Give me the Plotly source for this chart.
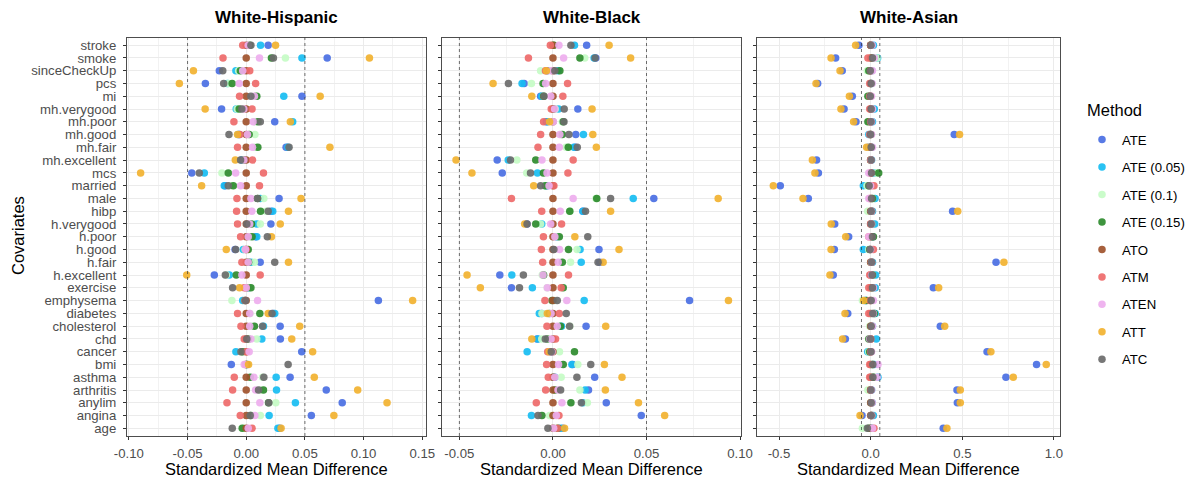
import plotly.graph_objects as go

covariates = ["age", "angina", "anylim", "arthritis", "asthma", "bmi", "cancer", "chd",
              "cholesterol", "diabetes", "emphysema", "exercise", "h.excellent", "h.fair",
              "h.good", "h.poor", "h.verygood", "hibp", "male", "married", "mcs",
              "mh.excellent", "mh.fair", "mh.good", "mh.poor", "mh.verygood", "mi", "pcs",
              "sinceCheckUp", "smoke", "stroke"]

methods = ["ATE", "ATE (0.05)", "ATE (0.1)", "ATE (0.15)", "ATO", "ATM", "ATEN", "ATT", "ATC"]
method_colors = ["#4A6FE3", "#17BDF2", "#C6FCC6", "#2E8B2E", "#A0522D",
                 "#EE6A6A", "#EEAEEE", "#F2B230", "#6B6B6B"]

panels = ["White-Hispanic", "White-Black", "White-Asian"]

# ---------------- White-Hispanic ----------------
wh_ATE = [0.0286, 0.0555, 0.0818, 0.0682, 0.0374, -0.0127, 0.0473, 0.0291, 0.0289, 0.023, 0.1126,
          0.002, -0.0272, 0.0119, -0.0095, 0.008, 0.021, 0.021, 0.028, -0.018, -0.0464, -0.004,
          0.034, -0.006, 0.0243, -0.021, 0.0475, -0.0348, -0.0229, 0.069, 0.0187]
wh_ATE05 = [0.027, 0.0195, 0.0419, 0.0258, 0.0255, 0.0005, -0.0088, 0.0133, 0.0147, 0.0243, -0.003,
            0.002, -0.0144, 0.004, -0.0025, 0.009, 0.009, 0.0226, 0.012, -0.0187, -0.0357, -0.003,
            0.0355, -0.0068, 0.0396, -0.0085, 0.032, -0.016, -0.0088, 0.0475, 0.0122]
wh_ATE10 = [-0.002, 0.012, 0.0252, 0.012, 0.014, -0.001, -0.004, 0.009, 0.0045, 0.003, -0.0122,
            0.0025, -0.017, 0.007, -0.001, 0.003, 0.012, 0.017, 0.015, -0.0135, -0.0207, -0.002,
            0.0074, 0.0074, 0.0074, -0.0077, 0.008, -0.015, -0.0065, 0.0334, 0.0025]
wh_ATE15 = [-0.0034, 0.004, 0.019, 0.0147, 0.0034, 0.0005, -0.0031, 0.002, 0.007, 0.0116, -0.001,
            0.004, -0.0085, 0.002, 0.0017, 0.005, 0.0045, 0.0122, 0.0096, -0.011, -0.0153, -0.002,
            0.0099, 0.0025, 0.010, -0.006, 0.009, -0.012, -0.005, 0.0215, 0.003]
wh_ATO = [0.0] * 31
wh_ATM = [0.005, -0.0051, -0.0164, -0.0116, -0.0102, -0.0005, 0.0003, -0.0017, -0.0045, -0.0074, -0.001,
          -0.0017, 0.0119, -0.0037, -0.0003, -0.0048, -0.0074, -0.0082, -0.0079, 0.0113, 0.0147, 0.0054,
          -0.0074, -0.0054, -0.0105, 0.005, -0.0057, 0.008, 0.003, -0.0198, -0.003]
wh_ATEN = [0.0017, 0.0074, 0.0116, 0.008, 0.0065, -0.0017, 0.0025, 0.004, 0.003, 0.003, 0.0096,
           0.0, -0.0037, 0.0017, -0.0006, 0.0017, 0.003, 0.0048, 0.004, -0.0048, -0.009, -0.002,
           0.0054, 0.0011, 0.006, -0.002, 0.007, -0.006, -0.003, 0.0113, 0.0017]
wh_ATT = [0.0297, 0.0747, 0.120, 0.095, 0.058, 0.002, 0.0566, 0.0388, 0.0456, 0.0187, 0.1418,
          -0.0057, -0.0507, 0.036, -0.017, 0.0215, 0.029, 0.036, 0.0467, -0.038, -0.090, -0.0093,
          0.0713, -0.0074, 0.0376, -0.035, 0.063, -0.057, -0.045, 0.105, 0.025]
wh_ATC = [-0.0119, 0.0034, 0.0192, 0.0105, 0.015, 0.0357, -0.0045, 0.0005, 0.0139, 0.022, -0.0006,
          -0.0116, -0.0178, 0.0243, -0.009, 0.018, 0.0005, 0.0187, 0.0096, -0.0153, -0.040, -0.0048,
          0.0365, -0.0147, 0.012, -0.0037, 0.004, -0.0192, -0.020, 0.0232, 0.004]

# ---------------- White-Black ----------------
wb_ATE = [0.0053, 0.0472, 0.0285, 0.019, 0.0223, 0.0105, -0.001, -0.0085, 0.0177, -0.006, 0.073,
          -0.0222, -0.0284, 0.025, 0.0246, 0.002, -0.014, 0.016, 0.0539, -0.003, -0.0271, -0.0298,
          0.0119, 0.0122, -0.0035, 0.0133, -0.0066, -0.0154, -0.003, 0.0229, 0.018]
wb_ATE05 = [0.004, -0.0115, 0.016, 0.0172, 0.001, 0.0101, -0.0138, -0.008, 0.0046, -0.0073, 0.0167,
            -0.011, -0.022, 0.0151, 0.0145, 0.002, -0.006, 0.0161, 0.0429, -0.004, -0.0083, -0.0239,
            0.0112, 0.0163, -0.003, 0.003, -0.006, -0.0165, 0.0027, 0.022, 0.0115]
wb_ATE10 = [0.001, -0.0018, 0.0184, 0.0144, 0.0044, 0.0133, 0.0035, -0.006, 0.009, -0.0059, 0.001,
            -0.003, -0.0057, 0.0094, 0.0129, 0.002, -0.0066, 0.009, 0.023, -0.0044, -0.014, -0.0193,
            0.007, 0.004, 0.005, 0.0012, -0.005, -0.0115, -0.0066, 0.017, 0.0]
wb_ATE15 = [0.0027, -0.0059, 0.0096, 0.001, 0.0005, 0.0055, 0.0115, -0.003, 0.004, -0.002, -0.0005,
            0.0055, -0.005, 0.005, 0.0083, 0.0034, -0.0092, 0.009, 0.0234, -0.004, -0.0051, -0.0092,
            0.0082, 0.005, 0.0055, 0.0002, -0.005, -0.0053, 0.0037, 0.0144, 0.0005]
wb_ATO = [0.0] * 31
wb_ATM = [0.0025, 0.0032, -0.0089, -0.0039, -0.0025, -0.0034, -0.0028, 0.0014, -0.0032, 0.0034, -0.0043,
          0.0044, 0.0083, -0.0055, -0.0062, -0.0051, 0.0046, -0.006, -0.0222, 0.0005, 0.008, 0.0108,
          -0.008, -0.0066, -0.005, -0.0009, 0.0053, 0.0078, -0.004, -0.0131, -0.0014]
wb_ATEN = [0.0004, 0.0018, 0.0048, 0.0027, 0.001, 0.003, -0.0005, -0.001, 0.0023, -0.001, 0.0074,
           -0.003, -0.0053, 0.0028, 0.0035, 0.001, -0.0012, 0.0039, 0.0108, -0.0021, -0.0032, -0.0059,
           0.0034, 0.0037, 0.0002, 0.0009, -0.0012, -0.0039, -0.001, 0.0057, 0.0032]
wb_ATT = [0.0062, 0.0597, 0.0457, 0.028, 0.0369, 0.0275, -0.002, -0.0113, 0.0282, -0.003, 0.0938,
          -0.0388, -0.0459, 0.0268, 0.0353, 0.0117, -0.0151, 0.0308, 0.0883, -0.0103, -0.0433, -0.0518,
          0.0232, 0.0213, -0.0018, 0.0209, -0.0113, -0.032, -0.0035, 0.0415, 0.030]
wb_ATC = [-0.0027, -0.008, 0.0152, 0.0041, 0.0128, 0.0202, -0.0009, -0.0041, 0.0089, 0.0071, 0.0023,
          -0.0179, -0.0158, 0.0241, 0.0005, 0.0186, -0.0138, 0.0174, 0.0308, -0.0066, -0.012, -0.0227,
          0.013, 0.0085, 0.0059, 0.006, -0.0048, -0.0238, 0.001, 0.0225, 0.0096]

# ---------------- White-Asian ----------------
wa_ATE = [0.396, -0.047, 0.473, 0.471, 0.738, 0.905, 0.635, -0.138, 0.38, -0.125, -0.03,
          0.342, -0.204, 0.684, -0.198, -0.12, -0.196, 0.447, -0.34, -0.493, -0.285, -0.295,
          -0.012, 0.456, -0.08, -0.145, -0.10, -0.289, -0.155, -0.191, -0.064]
wa_ATE05 = [0.005, 0.015, 0.008, 0.005, 0.04, 0.02, -0.016, 0.031, 0.01, 0.025, -0.025,
            0.025, 0.027, 0.01, -0.04, 0.01, 0.022, 0.01, 0.024, -0.04, 0.02, 0.005,
            0.005, -0.01, 0.01, 0.02, -0.005, 0.005, 0.005, 0.038, 0.015]
wa_ATE10 = [-0.045, 0.005, 0.0, -0.015, 0.02, 0.01, -0.01, -0.005, -0.005, 0.01, -0.045,
            0.005, 0.01, 0.0, -0.01, 0.005, 0.005, -0.016, 0.01, -0.02, 0.03, 0.0,
            -0.005, 0.0, -0.01, 0.005, -0.005, 0.005, -0.018, 0.035, 0.0]
wa_ATE15 = [-0.01, 0.005, 0.005, 0.0, 0.015, 0.01, -0.005, -0.01, 0.005, 0.02, -0.022,
            0.01, 0.01, 0.005, -0.005, 0.015, 0.005, 0.005, 0.01, -0.01, 0.044, 0.0,
            0.0, 0.0, -0.015, 0.005, -0.015, 0.0, -0.01, 0.01, 0.0]
wa_ATO = [0.0] * 31
wa_ATM = [0.018, 0.005, 0.005, 0.0, -0.005, -0.005, 0.0, 0.0, 0.005, -0.01, -0.005,
          -0.01, -0.005, 0.005, 0.015, -0.01, 0.0, 0.005, -0.005, 0.018, 0.0, 0.0,
          0.0, -0.005, 0.0, -0.005, -0.005, -0.005, 0.0, -0.015, 0.0]
wa_ATEN = [0.01, 0.005, 0.008, 0.005, 0.035, 0.04, 0.005, -0.005, 0.01, 0.015, 0.015,
           0.015, 0.005, 0.005, 0.0, -0.01, 0.005, 0.005, -0.01, 0.0, -0.01, 0.003,
           0.01, 0.005, 0.005, 0.01, 0.005, 0.008, 0.01, 0.02, 0.008]
wa_ATT = [0.416, -0.058, 0.489, 0.489, 0.778, 0.958, 0.656, -0.153, 0.404, -0.14, -0.038,
          0.371, -0.222, 0.727, -0.216, -0.136, -0.215, 0.475, -0.369, -0.531, -0.304, -0.318,
          -0.022, 0.485, -0.093, -0.162, -0.116, -0.298, -0.167, -0.216, -0.082]
wa_ATC = [-0.018, 0.003, 0.003, 0.002, 0.012, 0.012, 0.002, -0.002, 0.003, 0.012, 0.003,
          0.01, 0.008, 0.005, -0.003, 0.01, 0.003, 0.003, 0.005, -0.008, 0.005, 0.003,
          0.003, 0.0, 0.002, 0.003, -0.002, 0.003, -0.002, 0.01, 0.002]

# tick labels
wh_ticks = ["-0.10", "-0.05", "0.00", "0.05", "0.10", "0.15"]
wb_ticks = ["-0.05", "0.00", "0.05", "0.10"]
wa_ticks = ["-0.5", "0.0", "0.5", "1.0"]
threshold = 0.05

panel_data = [
    [wh_ATE, wh_ATE05, wh_ATE10, wh_ATE15, wh_ATO, wh_ATM, wh_ATEN, wh_ATT, wh_ATC],
    [wb_ATE, wb_ATE05, wb_ATE10, wb_ATE15, wb_ATO, wb_ATM, wb_ATEN, wb_ATT, wb_ATC],
    [wa_ATE, wa_ATE05, wa_ATE10, wa_ATE15, wa_ATO, wa_ATM, wa_ATEN, wa_ATT, wa_ATC],
]
panel_ticks = [wh_ticks, wb_ticks, wa_ticks]
for series in panel_data:
    for s in series:
        assert len(s) == len(covariates)

W, H = 1196, 486
FONT = "Liberation Sans, Arial, sans-serif"
TICK_SIZE = 13.2
TITLE_SIZE = 16.5
px_x = [(127, 426), (442, 741), (757, 1060)]
y_top, y_bot = 37.5, 436
x_ranges = [[-0.1016, 0.1532], [-0.0593, 0.1005], [-0.620, 1.033]]

fig = go.Figure()
axis_suffix = ["", "2", "3"]
for p in range(3):
    for mi_, m in enumerate(methods):
        fig.add_trace(go.Scatter(
            x=panel_data[p][mi_], y=covariates, mode="markers",
            name=m, legendgroup=m, showlegend=(p == 0),
            marker=dict(color=method_colors[mi_], size=7.5, opacity=0.92, line=dict(width=0)),
            xaxis="x" + axis_suffix[p], yaxis="y" + axis_suffix[p],
            hovertemplate=m + ": %{x}<extra>%{y}</extra>",
        ))

layout = dict(
    width=W, height=H, autosize=False,
    margin=dict(l=0, r=0, t=0, b=0, autoexpand=False),
    plot_bgcolor="white", paper_bgcolor="white",
    font=dict(family=FONT, size=12, color="#4D4D4D"),
    legend=dict(
        x=1082 / W, xanchor="left", y=1 - 124.5 / H, yanchor="top",
        font=dict(size=TICK_SIZE, color="black"), tracegroupgap=7.3,
        bgcolor="rgba(0,0,0,0)",
    ),
    shapes=[], annotations=[],
)

for p in range(3):
    x0, x1 = px_x[p]
    ticks = panel_ticks[p]
    tv = [float(t) for t in ticks]
    step = tv[1] - tv[0]
    minor = [v - step / 2 for v in tv] + [tv[-1] + step / 2]
    layout["xaxis" + axis_suffix[p]] = dict(
        domain=[x0 / W, x1 / W], anchor="y" + axis_suffix[p], automargin=False,
        range=x_ranges[p], tickmode="array", tickvals=tv, ticktext=ticks,
        showgrid=True, gridcolor="#EBEBEB", gridwidth=1.1,
        minor=dict(tickvals=minor, showgrid=True, gridcolor="#F2F2F2", gridwidth=0.6, ticks=""),
        zeroline=False, showline=True, mirror=True, linecolor="#4D4D4D", linewidth=1.1,
        ticks="outside", ticklen=3, tickcolor="#333333", tickwidth=1, ticklabelstandoff=2,
        tickfont=dict(size=TICK_SIZE, color="#4D4D4D", family=FONT),
    )
    layout["yaxis" + axis_suffix[p]] = dict(
        domain=[1 - y_bot / H, 1 - y_top / H], anchor="x" + axis_suffix[p], automargin=False,
        type="category", categoryorder="array", categoryarray=covariates,
        tickmode="array", tickvals=covariates, ticktext=covariates,
        range=[-0.6, len(covariates) - 0.4],
        showgrid=True, gridcolor="#EBEBEB", gridwidth=1.1,
        zeroline=False, showline=True, mirror=True, linecolor="#4D4D4D", linewidth=1.1,
        ticks="outside", ticklen=3, tickcolor="#333333", tickwidth=1, ticklabelstandoff=4,
        showticklabels=(p == 0),
        tickfont=dict(size=TICK_SIZE, color="#4D4D4D", family=FONT),
    )
    for v in (-threshold, threshold):
        layout["shapes"].append(dict(
            type="line", xref="x" + axis_suffix[p], yref="y" + axis_suffix[p] + " domain",
            x0=v, x1=v, y0=0, y1=1, layer="above",
            line=dict(color="#333333", width=0.7, dash="3px,3px"),
        ))
    cx = (x0 + x1) / 2 / W
    layout["annotations"].append(dict(
        text="<b>" + panels[p] + "</b>", x=cx, y=1 - 17 / H, xref="paper", yref="paper",
        xanchor="center", yanchor="middle", showarrow=False,
        font=dict(size=17, color="black", family=FONT),
    ))
    layout["annotations"].append(dict(
        text="Standardized Mean Difference", x=cx, y=1 - 469 / H, xref="paper", yref="paper",
        xanchor="center", yanchor="middle", showarrow=False,
        font=dict(size=TITLE_SIZE, color="black", family=FONT),
    ))

layout["annotations"].append(dict(
    text="Covariates", x=18 / W, y=1 - 236 / H, xref="paper", yref="paper",
    xanchor="center", yanchor="middle", textangle=-90, showarrow=False,
    font=dict(size=TITLE_SIZE, color="black", family=FONT),
))
layout["annotations"].append(dict(
    text="Method", x=1085 / W, y=1 - 110 / H, xref="paper", yref="paper",
    xanchor="left", yanchor="middle", showarrow=False,
    font=dict(size=TITLE_SIZE, color="black", family=FONT),
))

fig.update_layout(**layout)
fig.write_html("out.html", config={"displayModeBar": False},
               post_script="document.body.style.margin='0';document.body.style.overflow='hidden';")
